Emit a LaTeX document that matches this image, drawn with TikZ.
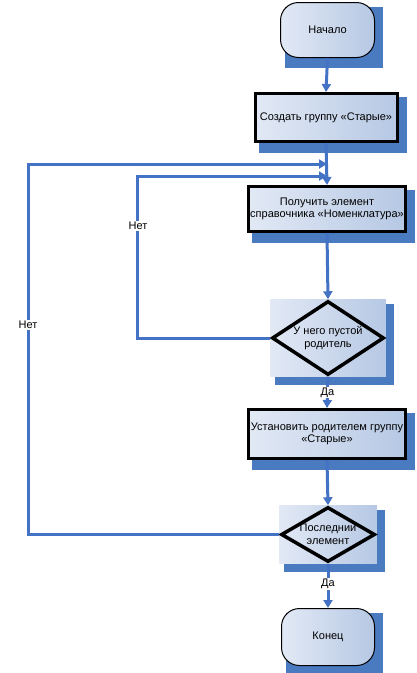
\documentclass[tikz,border=0pt]{standalone}
\usepackage{fontspec}
\setmainfont{Liberation Sans}
\usetikzlibrary{shapes.geometric,arrows.meta,backgrounds}
\definecolor{lnblue}{RGB}{68,114,196}
\definecolor{shblue}{RGB}{74,122,192}
\definecolor{fillA}{RGB}{226,233,245}
\definecolor{fillB}{RGB}{182,200,228}
\begin{document}
\begin{tikzpicture}[x=1pt,y=-1pt,
  font=\fontsize{11}{12.5}\selectfont,
  term/.style={draw=black, line width=1pt, rounded corners=18pt, left color=fillA, right color=fillB, inner sep=0pt, align=center},
  proc/.style={draw=black, line width=3pt, left color=fillA, right color=fillB, inner sep=0pt, align=center},
  dec/.style={diamond, draw=black, line width=3.5pt, inner sep=0pt},
  arr/.style={draw=lnblue, line width=3pt, -{Triangle[width=9pt,length=8pt]}},
  conn/.style={draw=lnblue, line width=3pt},
  lbl/.style={fill=white, inner sep=1pt},
  shad/.style={fill=shblue}]
\useasboundingbox (0,0) rectangle (416,673);

% nodes
\node[term, minimum width=94pt, minimum height=55pt] (start) at (327.5,30) {Начало};
\node[proc, minimum width=142pt, minimum height=48pt] (b1) at (326,117.5) {Создать группу «Старые»};
\node[proc, minimum width=157pt, minimum height=45pt] (b3) at (327,209) {Получить элемент\\справочника «Номенклатура»};
\node[dec, minimum width=112pt, minimum height=74pt,
  label={[align=center]center:У него пустой\\родитель}] (d1) at (328,338) {};
\node[proc, minimum width=157pt, minimum height=49pt] (b4) at (327,434) {Установить родителем группу\\«Старые»};
\node[dec, minimum width=94pt, minimum height=55pt,
  label={[align=center]center:Последнии\\элемент}] (d2) at (328,534.5) {};
\node[term, minimum width=93pt, minimum height=57pt] (end) at (328,637) {Конец};

% shadows and diamond backgrounds
\begin{scope}[on background layer]
  \foreach \n in {start,b1,b3,b4,end}{
    \fill[shad] ([shift={(5,5)}]\n.north west) rectangle ([shift={(8,10)}]\n.south east);
  }
  \foreach \n in {d1,d2}{
    \fill[shad] ([shift={(5,5)}]\n.west |- \n.north) rectangle ([shift={(8,8)}]\n.east |- \n.south);
    \shade[left color=fillA, right color=fillB] (\n.west |- \n.north) rectangle (\n.east |- \n.south);
  }
\end{scope}

% coordinates for loops
\coordinate (l1) at (137,176);
\coordinate (l2) at (28,164);

% connectors
\draw[arr] (start.south) -- (b1.north);
\draw[arr] (b1.south) -- (b3.north);
\draw[arr] (b3.south) -- (d1.north);
\draw[arr] (d1.south) -- node[lbl, pos=0.5] {Да} (b4.north);
\draw[arr] (b4.south) -- (d2.north);
\draw[arr] (d2.south) -- node[lbl, pos=0.45] {Да} (end.north);
\draw[arr] (d1.west) -| (l1) -- (l1 -| b3.north);
\draw[arr] (d2.west) -| (l2) -- (l2 -| b3.north);
\node[lbl] (n1) at (138,226) {Нет};
\node[lbl] (n2) at (28,325) {Нет};
\end{tikzpicture}
\end{document}
